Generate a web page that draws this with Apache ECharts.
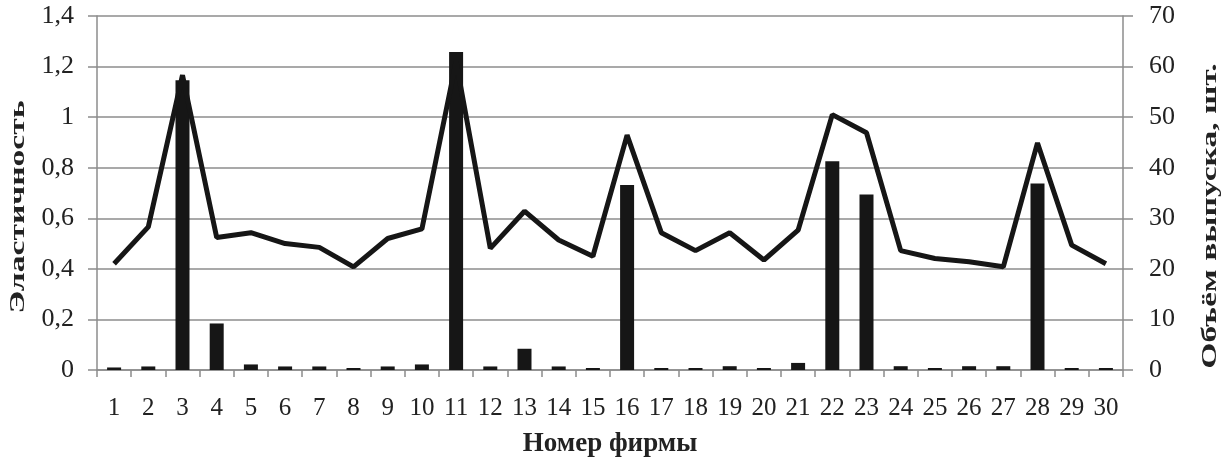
<!DOCTYPE html>
<html>
<head>
<meta charset="utf-8">
<script src="https://cdn.jsdelivr.net/npm/echarts@6/dist/echarts.min.js"></script>
<style>html,body{margin:0;padding:0;background:#fff}#c{width:1223px;height:462px}</style>
</head>
<body>
<div id="c"></div>
<script>
const categories = ['1','2','3','4','5','6','7','8','9','10','11','12','13','14','15','16','17','18','19','20','21','22','23','24','25','26','27','28','29','30'];
const elasticity = [0.42,0.566,1.166,0.524,0.543,0.50,0.485,0.408,0.52,0.558,1.22,0.481,0.628,0.514,0.45,0.929,0.543,0.472,0.543,0.435,0.553,1.01,0.938,0.472,0.441,0.428,0.408,0.898,0.494,0.42];
const volume = [0.5,0.7,57.3,9.2,1.1,0.7,0.7,0.4,0.7,1.1,62.9,0.7,4.2,0.7,0.4,36.6,0.4,0.4,0.75,0.4,1.4,41.3,34.7,0.75,0.4,0.75,0.75,36.9,0.4,0.4];
const leftTicks = {min:0, max:1.4, interval:0.2};
const rightTicks = {min:0, max:70, interval:10};
const xTitle = 'Номер фирмы';
const leftTitle = 'Эластичность';
const rightTitle = 'Объём выпуска, шт.';

const font = '"Liberation Serif", "DejaVu Serif", serif';
const txt = '#222';
const axisCol = '#8c8c8c';
const chart = echarts.init(document.getElementById('c'), null, {renderer:'canvas'});
chart.setOption({
  animation:false,
  backgroundColor:'#fff',
  textStyle:{fontFamily:font},
  grid:{left:97, right:100, top:16, bottom:92, containLabel:false, outerBoundsMode:'none'},
  xAxis:{
    type:'category', data:categories, boundaryGap:true,
    name:xTitle, nameLocation:'middle', nameGap:61,
    nameTextStyle:{fontFamily:font, fontSize:27, fontWeight:'bold', color:txt},
    axisLine:{lineStyle:{color:axisCol, width:1.5}},
    axisTick:{show:true, length:7, lineStyle:{color:axisCol, width:1.5}},
    axisLabel:{fontFamily:font, fontSize:25, color:txt, margin:26, interval:0}
  },
  yAxis:[{
    type:'value', min:leftTicks.min, max:leftTicks.max, interval:leftTicks.interval,
    axisLine:{show:true, lineStyle:{color:axisCol, width:1.5}},
    axisTick:{show:true, length:9, lineStyle:{color:axisCol, width:1.5}},
    splitLine:{lineStyle:{color:axisCol, width:1.5}},
    axisLabel:{fontFamily:font, fontSize:26, color:txt, margin:23,
      formatter:v=>String(Math.round(v*10)/10).replace('.',',')}
  },{
    type:'value', min:rightTicks.min, max:rightTicks.max, interval:rightTicks.interval, position:'right',
    axisLine:{show:true, lineStyle:{color:axisCol, width:1.5}},
    axisTick:{show:true, length:10, lineStyle:{color:axisCol, width:1.5}},
    splitLine:{show:false},
    axisLabel:{fontFamily:font, fontSize:26, color:txt, margin:26}
  }],
  graphic:[{
    type:'text', x:19, y:207, rotation:Math.PI/2, scaleX:1.68,
    style:{text:leftTitle, fontFamily:font, fontSize:20, fontWeight:'bold', fill:txt, align:'center', verticalAlign:'middle'}
  },{
    type:'text', x:1211, y:216, rotation:Math.PI/2, scaleX:1.68,
    style:{text:rightTitle, fontFamily:font, fontSize:20, fontWeight:'bold', fill:txt, align:'center', verticalAlign:'middle'}
  }],
  series:[{
    type:'bar', yAxisIndex:1, data:volume, barWidth:14,
    itemStyle:{color:'#161616'}, z:2
  },{
    type:'line', yAxisIndex:0, data:elasticity, symbol:'none',
    lineStyle:{color:'#161616', width:5}, z:3
  }]
});
</script>
</body>
</html>
